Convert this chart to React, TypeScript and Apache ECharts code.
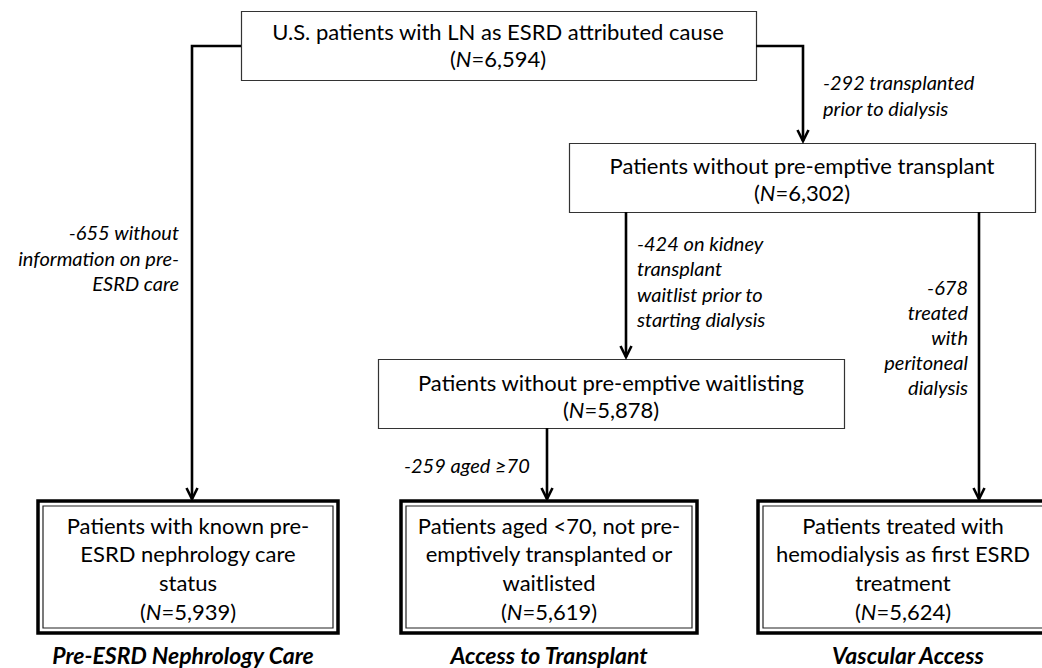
import React, { useEffect, useRef } from "react";
import * as echarts from "echarts";

// ---- data ----
const nodeTitles: string[][] = [
  ["U.S. patients with LN as ESRD attributed cause"],
  ["Patients without pre-emptive transplant"],
  ["Patients without pre-emptive waitlisting"],
  ["Patients with known pre-", "ESRD nephrology care", "status"],
  ["Patients aged <70, not pre-", "emptively transplanted or", "waitlisted"],
  ["Patients treated with", "hemodialysis as first ESRD", "treatment"],
];
const nodeCounts = [6594, 6302, 5878, 5939, 5619, 5624];
const exclusionCounts = [-292, -655, -424, -678, -259];
const exclusionTexts: string[][] = [
  ["transplanted", "prior to dialysis"],
  ["without", "information on pre-", "ESRD care"],
  ["on kidney", "transplant", "waitlist prior to", "starting dialysis"],
  ["", "treated", "with", "peritoneal", "dialysis"],
  ["aged ≥70"],
];
const outcomeLabels = ["Pre-ESRD Nephrology Care", "Access to Transplant", "Vascular Access"];

// ---- layout (positions only) ----
const boxes = [
  { x: 241, y: 11, w: 515, h: 69, cx: 498, cy: 45, lh: 27, final: false },
  { x: 569, y: 143, w: 466, h: 69, cx: 802, cy: 178.5, lh: 27, final: false },
  { x: 378, y: 359, w: 466, h: 69, cx: 611, cy: 395.5, lh: 27, final: false },
  { x: 38, y: 501, w: 300, h: 132, cx: 188, cy: 568.3, lh: 28.7, final: true },
  { x: 401, y: 501, w: 296, h: 132, cx: 549, cy: 568.3, lh: 28.7, final: true },
  { x: 758, y: 501, w: 300, h: 132, cx: 903, cy: 568.3, lh: 28.7, final: true },
];
const connectors: number[][][] = [
  [[756, 46], [803, 46], [803, 141]],
  [[241, 46], [192, 46], [192, 499]],
  [[626, 212], [626, 357]],
  [[979, 212], [979, 499]],
  [[547, 428], [547, 499]],
];
const exclusionPos = [
  { x: 823, ly: [82, 108], align: "left" },
  { x: 179, ly: [232, 258, 283], align: "right" },
  { x: 637, ly: [243, 268, 294, 319], align: "left" },
  { x: 968, ly: [287, 312, 337, 362, 387], align: "right" },
  { x: 404, ly: [465], align: "left" },
];
const outcomePos = [183, 549, 908];

const FONT = "Lato, 'Open Sans', sans-serif";
const BOX_FS = 22;
const ITAL_FS = 20;
const OUT_FS = 23;

const fmt = (n: number) => n.toLocaleString("en-US");

function buildGraphics() {
  const els: any[] = [];
  boxes.forEach((b, i) => {
    if (b.final) {
      els.push({
        type: "rect",
        shape: { x: b.x, y: b.y, width: b.w, height: b.h },
        style: { fill: "#fff", stroke: "#000", lineWidth: 3.5 },
      });
      els.push({
        type: "rect",
        shape: { x: b.x + 5, y: b.y + 5, width: b.w - 10, height: b.h - 10 },
        style: { fill: "none", stroke: "#222", lineWidth: 1.2 },
      });
    } else {
      els.push({
        type: "rect",
        shape: { x: b.x + 0.5, y: b.y + 0.5, width: b.w, height: b.h },
        style: { fill: "#fff", stroke: "#333", lineWidth: 1.2 },
      });
    }
    const text = [...nodeTitles[i], "({i|N}=" + fmt(nodeCounts[i]) + ")"].join("\n");
    els.push({
      type: "text",
      style: {
        text, x: b.cx, y: b.cy, align: "center", verticalAlign: "middle",
        fontSize: BOX_FS, lineHeight: b.lh, fontFamily: FONT, fill: "#000",
        rich: { i: { fontStyle: "italic", fontSize: BOX_FS, lineHeight: b.lh, fontFamily: FONT, fill: "#000" } },
      },
    });
  });
  connectors.forEach((pts) => {
    els.push({
      type: "polyline",
      shape: { points: pts },
      style: { stroke: "#000", lineWidth: 2.6, fill: "none" },
    });
    const [ex, ey] = pts[pts.length - 1];
    els.push({
      type: "polyline",
      shape: { points: [[ex - 5.5, ey - 11], [ex, ey], [ex + 5.5, ey - 11]] },
      style: { stroke: "#000", lineWidth: 2.6, fill: "none" },
    });
  });
  exclusionTexts.forEach((lines, i) => {
    const p = exclusionPos[i];
    lines.forEach((t, k) => {
      let text = t;
      if (k === 0) text = t ? `${exclusionCounts[i]} ${t}` : `${exclusionCounts[i]}`;
      els.push({
        type: "text",
        style: {
          text, x: p.x, y: p.ly[k], align: p.align, verticalAlign: "middle",
          fontSize: ITAL_FS, lineHeight: 20, fontFamily: FONT, fontStyle: "italic", fill: "#000",
        },
      });
    });
  });
  outcomeLabels.forEach((t, i) => {
    els.push({
      type: "text",
      style: {
        text: t, x: outcomePos[i], y: 655, align: "center", verticalAlign: "middle",
        fontSize: OUT_FS, lineHeight: 22, fontFamily: FONT, fontStyle: "italic", fontWeight: "bold", fill: "#000",
      },
    });
  });
  return els;
}

export default function App() {
  const ref = useRef<HTMLDivElement>(null);
  useEffect(() => {
    if (!ref.current) return;
    const chart = echarts.init(ref.current, undefined, { renderer: "svg" });
    chart.setOption({
      animation: false,
      backgroundColor: "#fff",
      graphic: { elements: buildGraphics() },
    });
    return () => chart.dispose();
  }, []);
  return (
    <div
      ref={ref}
      style={{ position: "absolute", left: 0, top: 0, width: 1042, height: 668, background: "#fff" }}
    />
  );
}
